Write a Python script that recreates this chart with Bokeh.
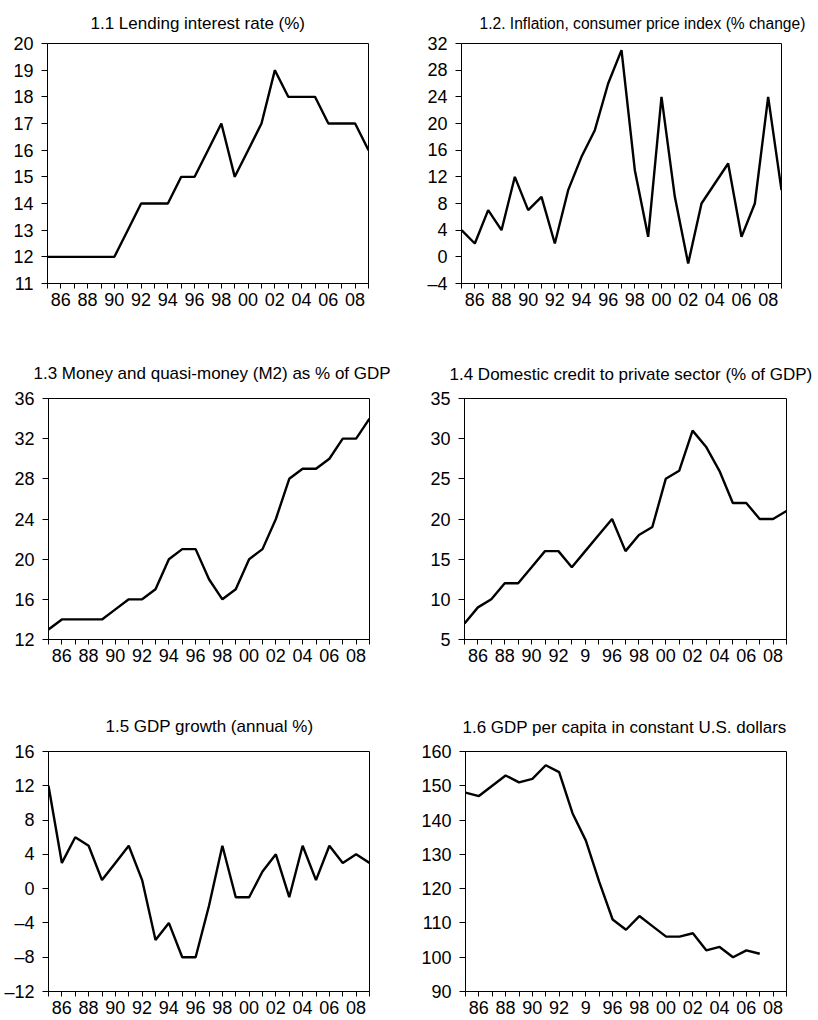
from bokeh.plotting import figure
from bokeh.layouts import column, row
from bokeh.models import Range1d, FixedTicker
from bokeh.embed import file_html
from bokeh.resources import INLINE

years = list(range(1985, 2010))

# x tick labels (one per year; blank on odd years)
xlabels_a = ["", "86", "", "88", "", "90", "", "92", "", "94", "", "96", "", "98", "",
             "00", "", "02", "", "04", "", "06", "", "08", ""]
xlabels_b = ["", "86", "", "88", "", "90", "", "92", "", "9", "", "96", "", "98", "",
             "00", "", "02", "", "04", "", "06", "", "08", ""]

titles = [
    "1.1 Lending interest rate (%)",
    "1.2. Inflation, consumer price index (% change)",
    "1.3 Money and quasi-money (M2) as % of GDP",
    "1.4 Domestic credit to private sector (% of GDP)",
    "1.5 GDP growth (annual %)",
    "1.6 GDP per capita in constant U.S. dollars",
]

lending = [12, 12, 12, 12, 12, 12, 13, 14, 14, 14, 15, 15, 16, 17, 15, 16, 17, 19, 18, 18, 18, 17, 17, 17, 16]
inflation = [4, 2, 7, 4, 12, 7, 9, 2, 10, 15, 19, 26, 31, 13, 3, 24, 9, -1, 8, 11, 14, 3, 8, 24, 10]
m2 = [13, 14, 14, 14, 14, 15, 16, 16, 17, 20, 21, 21, 18, 16, 17, 20, 21, 24, 28, 29, 29, 30, 32, 32, 34]
credit = [7, 9, 10, 12, 12, 14, 16, 16, 14, 16, 18, 20, 16, 18, 19, 25, 26, 31, 29, 26, 22, 22, 20, 20, 21]
growth = [12, 3, 6, 5, 1, 3, 5, 1, -6, -4, -8, -8, -2, 5, -1, -1, 2, 4, -1, 5, 1, 5, 3, 4, 3]
gdppc = [148, 147, 150, 153, 151, 152, 156, 154, 142, 134, 122, 111, 108, 112, 109, 106, 106, 107, 102, 103, 100, 102, 101]

yticks1 = [11, 12, 13, 14, 15, 16, 17, 18, 19, 20]
ylabels1 = ["11", "12", "13", "14", "15", "16", "17", "18", "19", "20"]
yticks2 = [-4, 0, 4, 8, 12, 16, 20, 24, 28, 32]
ylabels2 = ["\u20134", "0", "4", "8", "12", "16", "20", "24", "28", "32"]
yticks3 = [12, 16, 20, 24, 28, 32, 36]
ylabels3 = ["12", "16", "20", "24", "28", "32", "36"]
yticks4 = [5, 10, 15, 20, 25, 30, 35]
ylabels4 = ["5", "10", "15", "20", "25", "30", "35"]
yticks5 = [-12, -8, -4, 0, 4, 8, 12, 16]
ylabels5 = ["\u201312", "\u20138", "\u20134", "0", "4", "8", "12", "16"]
yticks6 = [90, 100, 110, 120, 130, 140, 150, 160]
ylabels6 = ["90", "100", "110", "120", "130", "140", "150", "160"]

FONT = "Liberation Sans"


def make(title, ys, yticks, ylabels, xlabels, width, height, mbl, mbr, mbt, mbb,
         toff, tstand, tsize="17px"):
    p = figure(width=width, height=height,
               x_range=Range1d(years[0], years[-1]),
               y_range=Range1d(yticks[0], yticks[-1]),
               output_backend="svg", toolbar_location=None,
               min_border_left=mbl, min_border_right=mbr,
               min_border_top=mbt, min_border_bottom=mbb)
    p.title.text = title
    p.title.text_font = FONT
    p.title.text_font_size = tsize
    p.title.text_font_style = "normal"
    p.title.text_color = "black"
    p.title.align = "left"
    p.title.offset = toff
    p.title.standoff = tstand
    p.grid.visible = False
    p.outline_line_color = "black"
    p.outline_line_width = 1
    p.outline_line_alpha = 1
    p.background_fill_color = "white"
    p.border_fill_color = "white"

    xa = p.xaxis[0]
    xa.ticker = FixedTicker(ticks=years, minor_ticks=[])
    xa.major_label_overrides = {float(y): l for y, l in zip(years, xlabels)}
    xa.major_tick_in = 0
    xa.major_tick_out = 5
    xa.minor_tick_out = 0
    xa.minor_tick_in = 0
    xa.major_label_standoff = 4
    xa.major_label_text_font = FONT
    xa.major_label_text_font_size = "18px"
    xa.major_label_text_color = "black"
    xa.axis_line_color = "black"
    xa.major_tick_line_color = "black"

    ya = p.yaxis[0]
    ya.ticker = FixedTicker(ticks=yticks, minor_ticks=[])
    ya.major_label_overrides = {float(t): l for t, l in zip(yticks, ylabels)}
    ya.major_tick_in = 0
    ya.major_tick_out = 6
    ya.minor_tick_out = 0
    ya.minor_tick_in = 0
    ya.major_label_standoff = 8
    ya.major_label_text_font = FONT
    ya.major_label_text_font_size = "18px"
    ya.major_label_text_color = "black"
    ya.axis_line_color = "black"
    ya.major_tick_line_color = "black"

    p.line(years[:len(ys)], ys, line_width=2.4, line_color="black")
    return p


p1 = make(titles[0], lending, yticks1, ylabels1, xlabels_a, 409, 330, 47, 41, 43, 45, 43, 22)
p2 = make(titles[1], inflation, yticks2, ylabels2, xlabels_a, 409, 330, 52, 37, 42, 47, 18, 24, "15.6px")
p3 = make(titles[2], m2, yticks3, ylabels3, xlabels_a, 409, 350, 48, 40, 68, 40, -15, 31)
p4 = make(titles[3], credit, yticks4, ylabels4, xlabels_b, 409, 350, 55, 32, 66, 41, -15, 30)
p5 = make(titles[4], growth, yticks5, ylabels5, xlabels_a, 409, 340, 48, 40, 71, 29, 57, 31)
p6 = make(titles[5], gdppc, yticks6, ylabels6, xlabels_b, 409, 340, 56, 32, 71, 29, -3, 30)

layout = column(row(p1, p2), row(p3, p4), row(p5, p6))

open("out.html", "w").write(file_html(layout, INLINE))
